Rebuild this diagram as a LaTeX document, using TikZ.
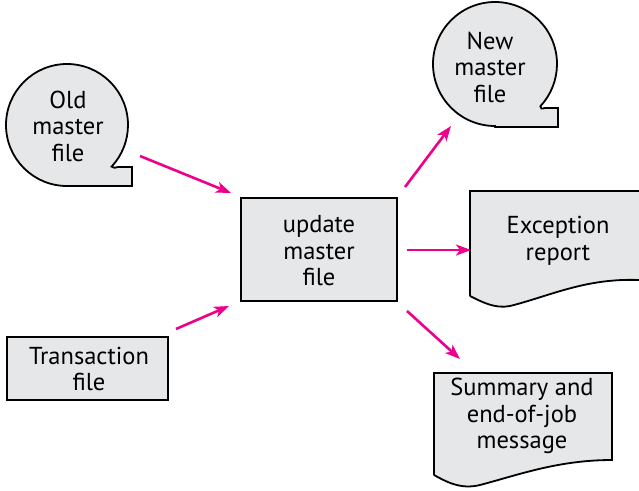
\documentclass[tikz,border=0pt]{standalone}
\usepackage{fontspec}
\setmainfont{PT Sans}
\usetikzlibrary{arrows.meta}
\definecolor{boxfill}{HTML}{E6E7E8}
\definecolor{flow}{HTML}{EC008C}
\tikzset{
  shapeline/.style={draw=black, line width=1.8pt, fill=boxfill, line join=miter},
  label/.style={align=center, font=\fontsize{24.5}{26.5}\selectfont, inner sep=0pt},
  flowarrow/.style={draw=flow, line width=2.6pt, -{Stealth[length=15pt,width=11pt,inset=4pt]}},
}
\begin{document}
\begin{tikzpicture}[x=1pt,y=-1pt]
\useasboundingbox (0,0) rectangle (639,490);
\clip (0,0) rectangle (639,490);
% Old master file (on-line storage symbol)
\draw[shapeline] (67,125) ++(90:61) arc[start angle=90, end angle=403, radius=61]
  .. controls (114,168) .. (118,167) -- (132,167) -- (132,186) -- (67,186) -- cycle;
\node[label] (old) at (68,126) {Old\\master\\file};
% New master file
\draw[shapeline] (495,64) ++(90:62) arc[start angle=90, end angle=403, radius=62]
  .. controls (541,109) .. (545,108) -- (558,108) -- (558,127) -- (495,127) -- cycle;
\node[label] (new) at (490,67) {New\\master\\file};
% update master file
\node[shapeline, minimum width=156pt, minimum height=103pt, inner sep=0pt] (upd) at (319,249.5) {};
\node[label] (updt) at (319,251) {update\\master\\file};
% Transaction file
\node[shapeline, minimum width=161pt, minimum height=63pt, inner sep=0pt] (trans) at (87.5,368.5) {};
\node[label] (transt) at (89,369) {Transaction\\file};
% Exception report
\draw[shapeline] (470,296) -- (470,191) -- (650,191) -- (650,280) -- (639,280)
  .. controls (585,278) and (550,296) .. (510,306)
  .. controls (495,309) and (482,302) .. (470,296);
\node[label] (exc) at (558,241) {Exception\\report};
% Summary and end-of-job message
\draw[shapeline] (434,475) -- (434,373) -- (612,373) -- (612,460)
  .. controls (558,460) and (518,475) .. (480,485)
  .. controls (460,490) and (445,481) .. (434,475);
\node[label] (sum) at (522,416) {Summary and\\end-of-job\\message};
% connector end points
\coordinate (a1s) at (140,156); \coordinate (a1e) at (231,193);
\coordinate (a2s) at (176,329); \coordinate (a2e) at (229,306);
\coordinate (a3s) at (405,187); \coordinate (a3e) at (451,126);
\coordinate (a4s) at (407,250); \coordinate (a4e) at (471,250);
\coordinate (a5s) at (407,311); \coordinate (a5e) at (460,359);
\draw[flowarrow] (a1s) -- (a1e);
\draw[flowarrow] (a2s) -- (a2e);
\draw[flowarrow] (a3s) -- (a3e);
\draw[flowarrow] (a4s) -- (a4e);
\draw[flowarrow] (a5s) -- (a5e);
\end{tikzpicture}
\end{document}
